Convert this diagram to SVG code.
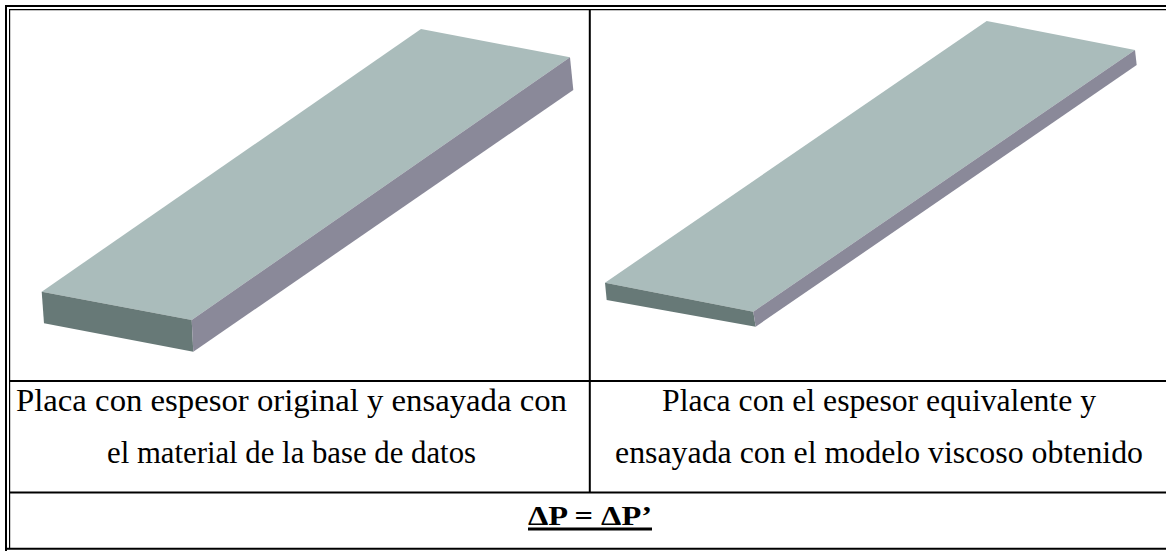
<svg xmlns="http://www.w3.org/2000/svg" width="1166" height="551" viewBox="0 0 1166 551">
  <style>
    .rule { stroke: #000; fill: none; }
    .cap { font-family: "Liberation Serif", "Times New Roman", serif; font-size: 31px; fill: #000; }
    .eq { font-family: "Liberation Serif", "Times New Roman", serif; font-size: 27px; font-weight: bold; fill: #000; }
    .top { fill: #AABCBB; }
    .front { fill: #677977; }
    .side { fill: #8A8999; }
  </style>
  <rect width="1166" height="551" fill="#fff"/>

  <!-- table frame: double outer border and cell rules -->
  <g id="table">
    <path class="rule" stroke-width="2" d="M6,551 V6 H1166"/>
    <path class="rule" stroke-width="1.2" d="M9.6,548 V9.6 H1166"/>
    <line class="rule" stroke-width="2" x1="589.8" y1="9" x2="589.8" y2="493"/>
    <line class="rule" stroke-width="2" x1="9" y1="381" x2="1166" y2="381"/>
    <line class="rule" stroke-width="2" x1="9" y1="492.5" x2="1166" y2="492.5"/>
    <line class="rule" stroke-width="2" x1="5" y1="548.8" x2="1166" y2="548.8"/>
  </g>

  <!-- plate with original thickness -->
  <g id="plate-original">
    <polygon class="top" points="41.7,291.7 421,29 570,57.3 191.7,320"/>
    <polygon class="front" points="41.7,291.7 191.7,320 193.3,351.7 44,323.3"/>
    <polygon class="side" points="191.7,320 570,57.3 573.3,90 193.3,351.7"/>
  </g>

  <!-- plate with equivalent thickness -->
  <g id="plate-equivalent">
    <polygon class="top" points="605,282.7 986.7,21 1135,50 753.3,311.7"/>
    <polygon class="front" points="605,282.7 753.3,311.7 755.7,326.7 606.7,300"/>
    <polygon class="side" points="753.3,311.7 1135,50 1136.7,65 755.7,326.7"/>
  </g>

  <g id="caption-left">
    <text class="cap" x="16" y="411" textLength="551" lengthAdjust="spacingAndGlyphs">Placa con espesor original y ensayada con</text>
    <text class="cap" x="107" y="463" textLength="369" lengthAdjust="spacingAndGlyphs">el material de la base de datos</text>
  </g>

  <g id="caption-right">
    <text class="cap" x="662" y="411" textLength="434" lengthAdjust="spacingAndGlyphs">Placa con el espesor equivalente y</text>
    <text class="cap" x="615" y="463" textLength="528" lengthAdjust="spacingAndGlyphs">ensayada con el modelo viscoso obtenido</text>
  </g>

  <g id="equation">
    <text class="eq" x="528" y="525" textLength="124" lengthAdjust="spacingAndGlyphs">ΔP = ΔP’</text>
    <line class="rule" stroke-width="3.2" x1="528" y1="529" x2="652" y2="529"/>
  </g>
</svg>
